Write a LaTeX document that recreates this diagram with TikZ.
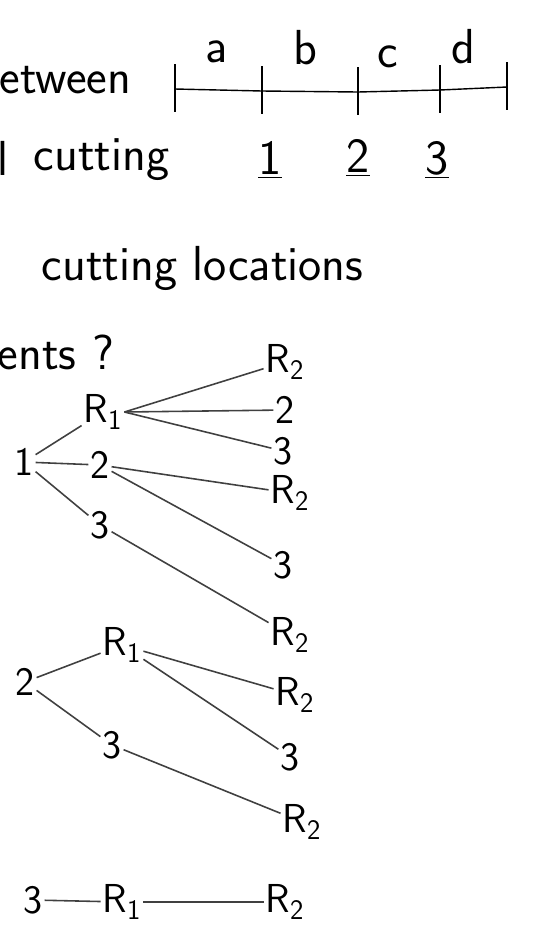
\documentclass[tikz,border=0pt]{standalone}
\usetikzlibrary{positioning}
\tikzset{
  hand/.style={font=\sffamily\fontsize{28}{28}\selectfont, inner sep=2pt},
  leaf/.style={font=\sffamily\fontsize{23}{23}\selectfont, inner sep=1pt},
  cut/.style={line width=0.9pt, black!75},
}
\begin{document}
\begin{tikzpicture}[x=0.02cm,y=-0.02cm]
\useasboundingbox (0,0) rectangle (532,931);

\node[hand, anchor=west] (between) at (-4,80) {etween};
\node[hand, anchor=west] (andl) at (-6,158) {l};
\node[hand, anchor=west] (cutting) at (30,160) {cutting};
\node[hand, anchor=west] (locations) at (38,268) {cutting locations};
\node[hand, anchor=west] (ents) at (-6,352) {ents ?};

% the rod and its pieces
\coordinate (t0) at (175,89);
\coordinate (t1) at (262,91);
\coordinate (t2) at (358,92);
\coordinate (t3) at (440,90);
\coordinate (t4) at (507,87);
\draw[thick] (t0) -- (t1) -- (t2) -- (t3) -- (t4);
\foreach \t in {t0,t1,t2,t3,t4}
  \draw[thick] ([yshift=14pt]\t) -- ([yshift=-13pt]\t);
\node[hand] (a) at (217,52) {a};
\node[hand] (b) at (305,48) {b};
\node[hand] (c) at (388,57) {c};
\node[hand] (d) at (463,47) {d};
\node[hand] (one) at (270,160) {\underline{1}};
\node[hand] (two) at (358,158) {\underline{2}};
\node[hand] (three) at (437,160) {\underline{3}};

% first cut at 1
\node[leaf] (r) at (24,462) {1};
\node[leaf] (rA) at (103,412) {R\textsubscript{1}};
\node[leaf] (rB) at (100,465) {2};
\node[leaf] (rC) at (100,525) {3};
\node[leaf] (rAa) at (285,362) {R\textsubscript{2}};
\node[leaf] (rAb) at (285,410) {2};
\node[leaf] (rAc) at (283,451) {3};
\node[leaf] (rBa) at (290,493) {R\textsubscript{2}};
\node[leaf] (rBb) at (283,565) {3};
\node[leaf] (rCa) at (290,635) {R\textsubscript{2}};
\draw[cut] (r) -- (rA);
\draw[cut] (r) -- (rB);
\draw[cut] (r) -- (rC);
\draw[cut] (rA.east) -- (rAa);
\draw[cut] (rA.east) -- (rAb);
\draw[cut] (rA.east) -- (rAc);
\draw[cut] (rB) -- (rBa);
\draw[cut] (rB) -- (rBb);
\draw[cut] (rC) -- (rCa);

% first cut at 2
\node[leaf] (s) at (25,682) {2};
\node[leaf] (sA) at (122,645) {R\textsubscript{1}};
\node[leaf] (sB) at (112,745) {3};
\node[leaf] (sAa) at (295,695) {R\textsubscript{2}};
\node[leaf] (sAb) at (290,757) {3};
\node[leaf] (sBa) at (302,822) {R\textsubscript{2}};
\draw[cut] (s) -- (sA);
\draw[cut] (s) -- (sB);
\draw[cut] (sA) -- (sAa);
\draw[cut] (sA) -- (sAb);
\draw[cut] (sB) -- (sBa);

% first cut at 3
\node[leaf] (u) at (33,900) {3};
\node[leaf] (uA) at (122,902) {R\textsubscript{1}};
\node[leaf] (uB) at (285,902) {R\textsubscript{2}};
\draw[cut] (u) -- (uA);
\draw[cut] (uA) -- (uB);
\end{tikzpicture}
\end{document}
